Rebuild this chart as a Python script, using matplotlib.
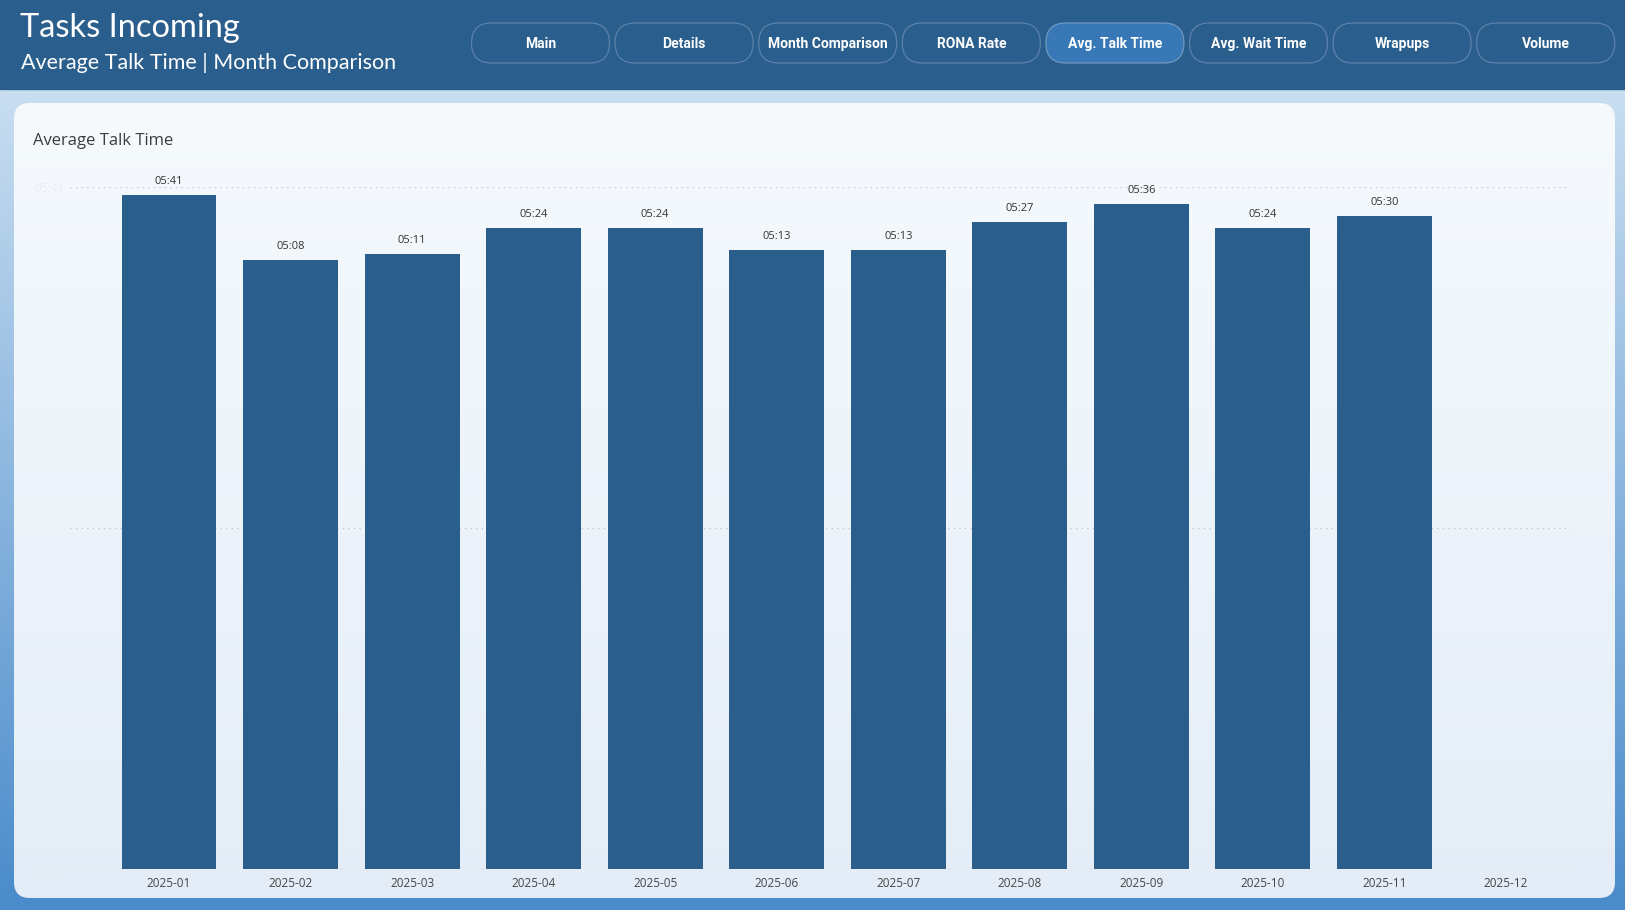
import numpy as np
import matplotlib
matplotlib.use("Agg")
import matplotlib.pyplot as plt
from matplotlib.patches import FancyBboxPatch, Rectangle
from matplotlib.colors import to_rgb

# ---------------- data ----------------
months = ["2025-01", "2025-02", "2025-03", "2025-04", "2025-05", "2025-06",
          "2025-07", "2025-08", "2025-09", "2025-10", "2025-11", "2025-12"]
talk_seconds = [341, 308, 311, 324, 324, 313, 313, 327, 336, 324, 330, np.nan]
y_ticks = [0, 172.5, 345]
y_tick_labels = ["05:41", "", "05:41"]
nav_buttons = ["Main", "Details", "Month Comparison", "RONA Rate",
               "Avg. Talk Time", "Avg. Wait Time", "Wrapups", "Volume"]
active_button = "Avg. Talk Time"
title = "Tasks Incoming"
subtitle = "Average Talk Time | Month Comparison"
card_title = "Average Talk Time"

def fmt(s):
    s = int(round(s))
    return f"{s // 60:02d}:{s % 60:02d}"

# ---------------- figure ----------------
W, H = 1625, 910
fig = plt.figure(figsize=(W / 100, H / 100), dpi=100)
FONT = ["Open Sans", "DejaVu Sans"]
plt.rcParams["font.family"] = FONT

bg = fig.add_axes([0, 0, 1, 1])
bg.set_xlim(0, W)
bg.set_ylim(H, 0)
bg.axis("off")

HEADER = "#2A5E8C"
BAR = "#2A5E8C"

def vgrad(c1, c2, n=256):
    a = np.array(to_rgb(c1)); b = np.array(to_rgb(c2))
    t = np.linspace(0, 1, n)[:, None]
    return (a * (1 - t) + b * t)[:, None, :]

# page background gradient
bg.imshow(vgrad("#C9DEF1", "#4A8BCB"), extent=(0, W, H, 88), aspect="auto", zorder=0)
# header band
bg.add_patch(Rectangle((0, 0), W, 89, color=HEADER, zorder=1))

# card
card = FancyBboxPatch((14, 103), 1601, 795, boxstyle="round,pad=0,rounding_size=16",
                      facecolor="none", edgecolor="none", zorder=2)
bg.add_patch(card)
im = bg.imshow(vgrad("#F6FAFD", "#E4EDF7"), extent=(14, 1615, 898, 103), aspect="auto", zorder=2)
im.set_clip_path(card)

# header texts
HFONT = ["Lato", "DejaVu Sans"]
bg.text(20, 37, title, color="white", fontsize=23.5, va="baseline", ha="left",
        family=HFONT, zorder=3)
bg.text(21, 69, subtitle, color="white", fontsize=15.5, va="baseline", ha="left",
        family=HFONT, zorder=3)

# nav buttons
bx0, bstep, bw, by, bh = 471.5, 143.6, 138, 23, 40
for i, name in enumerate(nav_buttons):
    x = bx0 + i * bstep
    active = name == active_button
    p = FancyBboxPatch((x, by), bw, bh, boxstyle="round,pad=0,rounding_size=20",
                       facecolor="#3878B6" if active else HEADER,
                       edgecolor="#6F97BE" if active else "#5A82AA",
                       linewidth=0.9, zorder=3)
    bg.add_patch(p)
    bg.text(x + bw / 2, by + bh / 2 + 1, name, color="white", fontsize=10, fontweight="bold",
            family=["Roboto", "DejaVu Sans"], ha="center", va="center", zorder=4)

# card title
bg.text(33, 145, card_title, color="#3C3C3C", fontsize=12, va="baseline", ha="left", zorder=3)

# ---------------- chart ----------------
left, right, bottom, top = 70, 1571, 868.5, 186.6
ax = fig.add_axes([left / W, 1 - bottom / H, (right - left) / W, (bottom - top) / H])
ax.set_facecolor("none")
x = np.arange(len(months))
vals = np.array(talk_seconds, dtype=float)
ax.bar(x, np.nan_to_num(vals), width=0.78, color=BAR, zorder=2)
ax.set_xlim(-0.815, 11.535)
ax.set_ylim(0, 345)

for yt in y_ticks:
    ax.axhline(yt, color="#C4C8CC", linestyle=(0, (1, 3)), linewidth=1, zorder=1)

for xi, v in zip(x, vals):
    if not np.isnan(v):
        ax.annotate(fmt(v), (xi, v), xytext=(0, 13.5), textcoords="offset pixels",
                    ha="center", va="center", fontsize=8, color="#333333",
                    annotation_clip=False)

ax.set_xticks(x)
ax.set_xticklabels(months, fontsize=8.5, color="#444444")
ax.set_yticks(y_ticks)
ax.set_yticklabels(y_tick_labels, fontsize=8.5, color="#E6EDF4")
ax.tick_params(axis="both", length=0)
ax.tick_params(axis="x", pad=6)
ax.tick_params(axis="y", pad=4)
for s in ax.spines.values():
    s.set_visible(False)

fig.savefig("out.png", dpi=100)
